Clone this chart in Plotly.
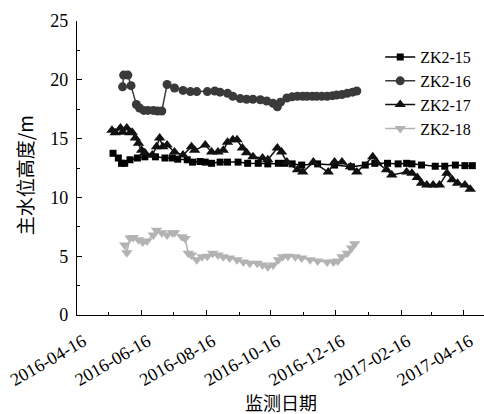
import plotly.graph_objects as go

# Water level monitoring records (m)
zk2_15_dates = ["2016-05-20", "2016-05-25", "2016-05-28", "2016-05-31", "2016-06-05", "2016-06-12",
                "2016-06-19", "2016-06-29", "2016-07-08", "2016-07-15", "2016-07-20", "2016-07-29",
                "2016-08-03", "2016-08-10", "2016-08-15", "2016-08-21", "2016-08-29", "2016-09-05",
                "2016-09-15", "2016-09-24", "2016-10-04", "2016-10-13", "2016-10-23", "2016-10-29",
                "2016-11-05", "2016-11-14", "2016-11-29", "2016-12-15", "2016-12-31", "2017-01-13",
                "2017-01-22", "2017-02-03", "2017-02-13", "2017-02-21", "2017-02-26", "2017-03-07",
                "2017-03-20", "2017-03-29", "2017-04-08", "2017-04-17", "2017-04-24"]
zk2_15_level = [13.75, 13.35, 12.9, 12.9, 13.2, 13.35,
                13.45, 13.45, 13.35, 13.35, 13.25, 13.2,
                13.0, 13.05, 13.0, 12.9, 13.0, 13.0,
                13.0, 12.9, 12.9, 12.85, 12.9, 12.9,
                12.85, 12.75, 12.85, 12.75, 12.6, 12.75,
                12.9, 12.9, 12.85, 12.9, 12.85, 12.75,
                12.65, 12.65, 12.75, 12.7, 12.7]

zk2_16_dates = ["2016-05-29", "2016-05-30", "2016-06-03", "2016-06-06", "2016-06-11", "2016-06-14",
                "2016-06-18", "2016-06-22", "2016-06-27", "2016-07-01", "2016-07-05", "2016-07-10",
                "2016-07-17", "2016-07-25", "2016-08-01", "2016-08-07", "2016-08-17", "2016-08-24",
                "2016-08-29", "2016-09-05", "2016-09-10", "2016-09-17", "2016-09-23", "2016-09-29",
                "2016-10-06", "2016-10-12", "2016-10-18", "2016-10-22", "2016-10-25", "2016-10-31",
                "2016-11-05", "2016-11-10", "2016-11-15", "2016-11-19", "2016-11-24", "2016-11-28",
                "2016-12-03", "2016-12-08", "2016-12-13", "2016-12-17", "2016-12-22", "2016-12-27",
                "2017-01-01", "2017-01-05"]
zk2_16_level = [19.4, 20.4, 20.4, 19.5, 17.9, 17.6,
                17.4, 17.4, 17.4, 17.35, 17.35, 19.6,
                19.3, 19.1, 19.0, 19.0, 19.0, 19.05,
                18.95, 18.85, 18.6, 18.4, 18.35, 18.35,
                18.3, 18.2, 18.0, 17.7, 18.1, 18.45,
                18.55, 18.6, 18.6, 18.6, 18.6, 18.6,
                18.6, 18.6, 18.65, 18.7, 18.75, 18.85,
                18.95, 19.05]

zk2_17_dates = ["2016-05-19", "2016-05-22", "2016-05-27", "2016-05-29", "2016-06-02", "2016-06-05",
                "2016-06-07", "2016-06-10", "2016-06-13", "2016-06-16", "2016-06-19", "2016-06-26",
                "2016-06-30", "2016-07-03", "2016-07-06", "2016-07-10", "2016-07-17", "2016-07-25",
                "2016-08-02", "2016-08-05", "2016-08-15", "2016-08-21", "2016-08-27", "2016-09-01",
                "2016-09-05", "2016-09-10", "2016-09-14", "2016-09-19", "2016-09-23", "2016-09-29",
                "2016-10-08", "2016-10-13", "2016-10-22", "2016-10-26", "2016-10-31", "2016-11-10",
                "2016-11-15", "2016-11-25", "2016-12-09", "2016-12-15", "2016-12-22", "2016-12-30",
                "2017-01-05", "2017-01-20", "2017-01-24", "2017-02-02", "2017-02-07", "2017-02-21",
                "2017-02-26", "2017-03-03", "2017-03-07", "2017-03-12", "2017-03-18", "2017-03-24",
                "2017-03-31", "2017-04-05", "2017-04-10", "2017-04-17", "2017-04-22"]
zk2_17_level = [15.7, 15.5, 15.9, 15.55, 15.9, 15.5,
                15.55, 15.05, 14.6, 14.0, 13.8, 13.6,
                14.3, 15.05, 14.3, 14.45, 13.85, 13.6,
                14.3, 14.0, 14.45, 13.85, 13.85, 14.0,
                14.7, 14.9, 14.9, 14.2, 13.8, 13.45,
                13.35, 13.2, 14.2, 13.85, 13.0, 12.35,
                12.15, 13.0, 12.15, 13.0, 13.0, 12.6,
                12.15, 13.45, 12.95, 12.35, 11.9, 12.15,
                12.05, 11.7, 11.2, 11.05, 11.05, 11.05,
                12.05, 11.5, 11.2, 11.05, 10.7]

zk2_18_dates = ["2016-05-31", "2016-06-02", "2016-06-05", "2016-06-08", "2016-06-13", "2016-06-17",
                "2016-06-21", "2016-06-27", "2016-06-30", "2016-07-05", "2016-07-10", "2016-07-15",
                "2016-07-17", "2016-07-24", "2016-07-27", "2016-07-30", "2016-08-02", "2016-08-07",
                "2016-08-12", "2016-08-17", "2016-08-22", "2016-08-27", "2016-09-01", "2016-09-07",
                "2016-09-14", "2016-09-20", "2016-09-26", "2016-10-03", "2016-10-08", "2016-10-13",
                "2016-10-18", "2016-10-23", "2016-10-27", "2016-11-01", "2016-11-08", "2016-11-14",
                "2016-11-22", "2016-11-29", "2016-12-08", "2016-12-14", "2016-12-18", "2016-12-22",
                "2016-12-27", "2016-12-31", "2017-01-03"]
zk2_18_level = [5.95, 5.3, 6.55, 6.6, 6.4, 6.2,
                6.3, 6.8, 7.2, 7.0, 6.8, 7.0,
                7.0, 6.65, 6.5, 5.25, 5.1, 4.7,
                4.95, 5.0, 5.25, 5.1, 4.95, 4.85,
                4.7, 4.5, 4.4, 4.4, 4.25, 4.1,
                4.25, 4.7, 4.95, 5.0, 4.95, 4.85,
                4.7, 4.6, 4.5, 4.5, 4.6, 4.95,
                5.25, 5.7, 6.05]

tick_dates = ["2016-04-16", "2016-06-16", "2016-08-16", "2016-10-16",
              "2016-12-16", "2017-02-16", "2017-04-16"]
minor_dates = ["2016-05-16", "2016-07-16", "2016-09-16", "2016-11-16",
               "2017-01-16", "2017-03-16"]

serif = "'Liberation Serif', 'DejaVu Serif', serif"
cjk = "'Noto Sans CJK SC', sans-serif"

series = [
    ("ZK2-15", zk2_15_dates, zk2_15_level, "#000000", "square", 7),
    ("ZK2-16", zk2_16_dates, zk2_16_level, "#3a3a3a", "circle", 9),
    ("ZK2-17", zk2_17_dates, zk2_17_level, "#111111", "triangle-up", 10),
    ("ZK2-18", zk2_18_dates, zk2_18_level, "#b3b3b3", "triangle-down", 10),
]

fig = go.Figure()
for name, xs, ys, color, symbol, size in series:
    fig.add_trace(go.Scatter(
        x=xs, y=ys, name=name, mode="lines+markers",
        line=dict(color=color, width=1.5),
        marker=dict(color=color, symbol=symbol, size=size, line=dict(width=0)),
    ))

axis_common = dict(
    showline=True, linecolor="black", linewidth=1.2,
    ticks="inside", ticklen=5, tickcolor="black", tickwidth=1.2,
    showgrid=False, zeroline=False, mirror=False,
    tickfont=dict(family=serif, size=18, color="black"),
)

fig.update_xaxes(
    type="date",
    range=["2016-04-16", "2017-05-05"],
    tickmode="array", tickvals=tick_dates, ticktext=tick_dates,
    tickangle=-30, ticklabelshift=6, ticklabelstandoff=8,
    minor=dict(tickmode="array", tickvals=minor_dates, ticks="inside",
               ticklen=3, tickcolor="black", tickwidth=1.2),
    **axis_common,
)
fig.update_yaxes(
    range=[0, 25], tickmode="array", tickvals=[0, 5, 10, 15, 20, 25],
    ticklabelstandoff=4,
    minor=dict(tickmode="array", tickvals=[2.5, 7.5, 12.5, 17.5, 22.5],
               ticks="inside", ticklen=3, tickcolor="black", tickwidth=1.2),
    **axis_common,
)

fig.update_layout(
    width=484, height=414,
    margin=dict(l=77, r=0, t=21, b=99),
    plot_bgcolor="white", paper_bgcolor="white",
    font=dict(family=serif, color="black"),
    showlegend=True,
    legend=dict(x=0.745, y=0.935, xanchor="left", yanchor="top",
                font=dict(family=serif, size=16, color="black"),
                bgcolor="rgba(0,0,0,0)", tracegroupgap=0, itemwidth=30),
    annotations=[
        dict(text="监测日期", xref="paper", yref="paper", x=0.5, y=-0.295,
             xanchor="center", yanchor="middle", showarrow=False,
             font=dict(family=cjk, size=18, color="black")),
        dict(text="主水位高度/m", xref="paper", yref="paper", x=-0.13, y=0.476,
             xanchor="center", yanchor="middle", showarrow=False, textangle=-90,
             font=dict(family=cjk, size=19, color="black")),
    ],
)

fig.write_html("out.html")
